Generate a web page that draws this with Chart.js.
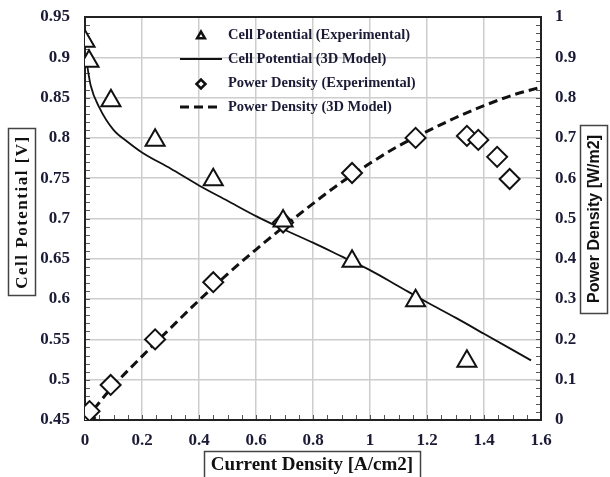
<!DOCTYPE html>
<html>
<head>
<meta charset="utf-8">
<script src="https://cdn.jsdelivr.net/npm/chart.js@4.4.0/dist/chart.umd.min.js"></script>
<style>
  html, body { margin: 0; padding: 0; background: #fff; }
</style>
</head>
<body>
<canvas id="polCurve" width="610" height="477"></canvas>
<script>
// Polarization and power density curves

// measured points
const cellExpI = [0.0, 0.014, 0.091, 0.246, 0.45, 0.695, 0.937, 1.16, 1.34]
const cellExpV = [0.92, 0.895, 0.846, 0.797, 0.748, 0.697, 0.647, 0.598, 0.523]
const powerExpI = [0.0, 0.016, 0.09, 0.246, 0.45, 0.695, 0.937, 1.16, 1.34, 1.38, 1.446, 1.49]
const powerExpP = [0.005, 0.022, 0.087, 0.2, 0.342, 0.49, 0.613, 0.7, 0.705, 0.695, 0.653, 0.598]

// 3D model curves
const cellModelI = [0.004, 0.02, 0.05, 0.1, 0.15, 0.2, 0.3, 0.4, 0.5, 0.6, 0.7, 0.8, 0.9, 1.0, 1.1, 1.2, 1.3, 1.4, 1.5, 1.565]
const cellModelV = [0.898, 0.865, 0.838, 0.81, 0.795, 0.782, 0.762, 0.741, 0.722, 0.703, 0.686, 0.67, 0.653, 0.636, 0.616, 0.596, 0.577, 0.557, 0.537, 0.524]
const powerModelI = [0, 0.1, 0.2, 0.3, 0.4, 0.5, 0.6, 0.7, 0.8, 0.9, 1.0, 1.1, 1.2, 1.3, 1.4, 1.5, 1.6]
const powerModelP = [0, 0.085, 0.158, 0.228, 0.297, 0.362, 0.423, 0.481, 0.537, 0.59, 0.637, 0.68, 0.716, 0.75, 0.78, 0.806, 0.826]

// axis ticks
const xTicks = [0, 0.2, 0.4, 0.6, 0.8, 1, 1.2, 1.4, 1.6]
const leftTicks = [0.45, 0.5, 0.55, 0.6, 0.65, 0.7, 0.75, 0.8, 0.85, 0.9, 0.95]
const rightTicks = [0, 0.1, 0.2, 0.3, 0.4, 0.5, 0.6, 0.7, 0.8, 0.9, 1]

const serif = "'Liberation Serif', 'Times New Roman', serif"
const sans = "'Liberation Sans', Arial, sans-serif"
const ink = '#1b1b36'

const pts = (xs, ys) => xs.map((x, i) => ({ x: x, y: ys[i] }))
const fixTicks = (list) => (scale) => { scale.ticks = list.map(v => ({ value: v })) }
const fmt = (v) => String(Number(v.toFixed(2)))

// fixed axis sizes so the plot box sits where we want it
const sizeY = (w) => (s) => { s.width = w; s.paddingTop = 0; s.paddingBottom = 0 }
const sizeX = (h) => (s) => { s.height = h; s.paddingLeft = 0; s.paddingRight = 0 }

const tickFont = { family: serif, size: 17, weight: 'bold' }

// frame, minor ticks, legend and boxed axis titles
const chartExtras = {
  id: 'chartExtras',
  beforeDatasetsDraw(chart) {
    const { ctx, chartArea: a, scales } = chart
    ctx.save()
    ctx.strokeStyle = '#555'
    ctx.lineWidth = 1
    ctx.beginPath()
    for (let i = 1; i < 32; i++) {
      const px = Math.round(scales.x.getPixelForValue(i * 0.05)) + 0.5
      ctx.moveTo(px, a.bottom); ctx.lineTo(px, a.bottom - 5)
    }
    for (let i = 1; i < 50; i++) {
      const py = Math.round(scales.y.getPixelForValue(0.45 + i * 0.01)) + 0.5
      ctx.moveTo(a.left, py); ctx.lineTo(a.left + 5, py)
    }
    for (let i = 1; i < 50; i++) {
      const py = Math.round(scales.y1.getPixelForValue(i * 0.02)) + 0.5
      ctx.moveTo(a.right, py); ctx.lineTo(a.right - 5, py)
    }
    ctx.stroke()
    ctx.strokeStyle = '#222'
    ctx.lineWidth = 2
    ctx.strokeRect(a.left, a.top, a.right - a.left, a.bottom - a.top)
    ctx.restore()
  },
  afterDraw(chart) {
    const { ctx, chartArea: a } = chart
    ctx.save()

    // legend
    chart.data.datasets.forEach((ds, i) => {
      const y = a.top + 18 + i * 24
      const x0 = a.left + 95
      ctx.strokeStyle = '#111'
      ctx.fillStyle = '#fff'
      if (ds.showLine) {
        ctx.lineWidth = ds.borderWidth
        ctx.setLineDash(ds.borderDash || [])
        ctx.beginPath(); ctx.moveTo(x0, y); ctx.lineTo(x0 + 42, y); ctx.stroke()
        ctx.setLineDash([])
      } else {
        ctx.lineWidth = 2.5
        Chart.helpers.drawPoint(ctx, { pointStyle: ds.pointStyle, radius: 4.5, rotation: 0, borderWidth: 2.5 }, x0 + 21, y + 1)
      }
      ctx.fillStyle = ink
      ctx.font = 'bold 14.5px ' + serif
      ctx.textAlign = 'left'
      ctx.textBaseline = 'middle'
      ctx.fillText(ds.label, x0 + 48, y)
    })

    ctx.strokeStyle = '#444'
    ctx.lineWidth = 1.5
    ctx.fillStyle = '#111'
    ctx.textAlign = 'center'
    ctx.textBaseline = 'middle'

    // bottom title
    ctx.strokeRect(204.5, 451.5, 216, 27)
    ctx.font = 'bold 19px ' + serif
    ctx.fillText('Current Density [A/cm2]', 312, 465)

    // left title
    ctx.strokeRect(8.5, 128.5, 27, 167)
    ctx.save()
    ctx.translate(23, 212)
    ctx.rotate(-Math.PI / 2)
    ctx.font = 'bold 17px ' + serif
    ctx.letterSpacing = '1.5px'
    ctx.fillText('Cell Potential [V]', 0, 0)
    ctx.restore()

    // right title
    ctx.strokeRect(580.5, 125.5, 27, 188)
    ctx.save()
    ctx.translate(595, 219)
    ctx.rotate(-Math.PI / 2)
    ctx.font = 'bold 16px ' + sans
    ctx.fillText('Power Density [W/m2]', 0, 0)
    ctx.restore()

    ctx.restore()
  }
}

const gridStyle = { color: '#cdcdcd', lineWidth: 1.5, drawTicks: false }

const polCurve = new Chart(document.getElementById('polCurve').getContext('2d'), {
  type: 'scatter',
  data: {
    datasets: [
      {
        label: 'Cell Potential (Experimental)',
        data: pts(cellExpI, cellExpV),
        yAxisID: 'y',
        showLine: false,
        pointStyle: 'triangle',
        pointRadius: 11,
        pointBorderWidth: 2,
        pointBorderColor: '#111',
        pointBackgroundColor: '#fff',
        order: 0
      },
      {
        label: 'Cell Potential (3D Model)',
        data: pts(cellModelI, cellModelV),
        yAxisID: 'y',
        showLine: true,
        borderColor: '#111',
        borderWidth: 1.8,
        pointRadius: 0,
        cubicInterpolationMode: 'monotone',
        order: 2
      },
      {
        label: 'Power Density (Experimental)',
        data: pts(powerExpI, powerExpP),
        yAxisID: 'y1',
        showLine: false,
        pointStyle: 'rectRot',
        pointRadius: 10,
        pointBorderWidth: 2,
        pointBorderColor: '#111',
        pointBackgroundColor: '#fff',
        order: 1
      },
      {
        label: 'Power Density (3D Model)',
        data: pts(powerModelI, powerModelP),
        yAxisID: 'y1',
        showLine: true,
        borderColor: '#111',
        borderWidth: 3,
        borderDash: [9, 5],
        pointRadius: 0,
        cubicInterpolationMode: 'monotone',
        order: 3
      }
    ]
  },
  options: {
    responsive: false,
    animation: false,
    layout: { padding: { left: 0, right: 0, top: 17, bottom: 0 } },
    plugins: {
      legend: { display: false },
      tooltip: { enabled: false }
    },
    scales: {
      x: {
        type: 'linear',
        min: 0, max: 1.6,
        grid: gridStyle,
        border: { display: false },
        afterBuildTicks: fixTicks(xTicks),
        afterFit: sizeX(57),
        ticks: { font: tickFont, color: ink, padding: 10, callback: fmt }
      },
      y: {
        position: 'left',
        min: 0.45, max: 0.95,
        grid: gridStyle,
        border: { display: false },
        afterBuildTicks: fixTicks(leftTicks),
        afterFit: sizeY(85),
        ticks: { font: tickFont, color: ink, padding: 15, callback: fmt }
      },
      y1: {
        position: 'right',
        min: 0, max: 1,
        grid: { display: false, drawTicks: false },
        border: { display: false },
        afterBuildTicks: fixTicks(rightTicks),
        afterFit: sizeY(69),
        ticks: { font: tickFont, color: ink, padding: 14, callback: fmt }
      }
    }
  },
  plugins: [chartExtras]
})
</script>
</body>
</html>
